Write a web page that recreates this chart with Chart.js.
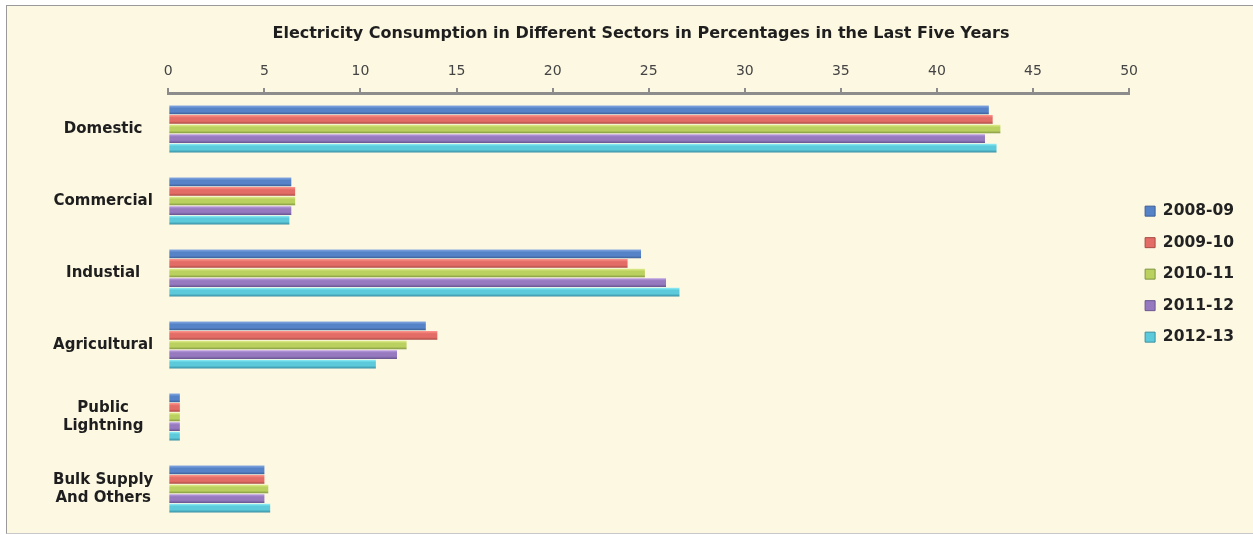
<!DOCTYPE html>
<html>
<head>
<meta charset="utf-8">
<script src="https://cdn.jsdelivr.net/npm/chart.js@4/dist/chart.umd.min.js"></script>
<style>
  body { margin: 0; background: #fff; overflow: hidden; }
  #box {
    position: absolute; left: 6px; top: 5px;
    width: 1246px; height: 527px;
    background: #fdf8e2;
    border-top: 1px solid #9a9a9a;
    border-left: 1px solid #9a9a9a;
    border-bottom: 1px solid #c8c8c8;
  }
</style>
</head>
<body>
<div id="box"><canvas id="myChart"></canvas></div>
<script>
// sectors (y axis) and years (series)
var sectors = ["Domestic", "Commercial", "Industial", "Agricultural", ["Public", "Lightning"], ["Bulk Supply", "And Others"]];
var years = ["2008-09", "2009-10", "2010-11", "2011-12", "2012-13"];

// percentages
var v2008 = [42.7, 6.4, 24.6, 13.4, 0.6, 5.0];
var v2009 = [42.9, 6.6, 23.9, 14.0, 0.6, 5.0];
var v2010 = [43.3, 6.6, 24.8, 12.4, 0.6, 5.2];
var v2011 = [42.5, 6.4, 25.9, 11.9, 0.6, 5.0];
var v2012 = [43.1, 6.3, 26.6, 10.8, 0.6, 5.3];

var xTicks = [0, 5, 10, 15, 20, 25, 30, 35, 40, 45, 50];

var light = ["#86aae2", "#ff958e", "#e4f08f", "#c2a6e6", "#94f2f8"];
var mid   = ["#5683c8", "#e46c66", "#bad05f", "#9679bf", "#5ccadb"];
var dark  = ["#3c5e94", "#a64a43", "#7f9542", "#6a5590", "#3b8fa2"];

var font = "'DejaVu Sans', sans-serif";

// fake the excel 3d look with a gradient across each bar
function barFill(i) {
  return function (c) {
    var el = c.element;
    if (!el || el.y == null || isNaN(el.y) || !el.height) return mid[i];
    var top = el.y - el.height / 2;
    var g = c.chart.ctx.createLinearGradient(0, top, 0, top + el.height);
    g.addColorStop(0, light[i]);
    g.addColorStop(0.3, mid[i]);
    g.addColorStop(0.7, mid[i]);
    g.addColorStop(1, dark[i]);
    return g;
  };
}

var allVals = [v2008, v2009, v2010, v2011, v2012];
var datasets = [];
for (var i = 0; i < years.length; i++) {
  datasets.push({
    label: years[i],
    data: allVals[i],
    backgroundColor: barFill(i),
    borderWidth: 0,
    categoryPercentage: 0.66,
    barPercentage: 0.92
  });
}

var chart = new Chart("myChart", {
  type: "bar",
  data: { labels: sectors, datasets: datasets },
  options: {
    indexAxis: "y",
    responsive: true,
    maintainAspectRatio: false,
    animation: false,
    layout: { padding: { left: 31, right: 9, top: 0, bottom: 8 } },
    plugins: {
      tooltip: { enabled: false },
      title: {
        display: true,
        text: "Electricity Consumption in Different Sectors in Percentages in the Last Five Years",
        color: "#1e1e1e",
        font: { family: font, size: 16, weight: "bold" },
        padding: { top: 18, bottom: 12 }
      },
      legend: {
        position: "right",
        align: "start",
        // empty title only pushes the items down
        title: { display: true, text: "", padding: { top: 167, bottom: 0 }, font: { size: 12 } },
        labels: {
          color: "#222",
          font: { family: font, size: 15.5, weight: "bold" },
          boxWidth: 10,
          boxHeight: 10,
          padding: 16,
          generateLabels: function (ch) {
            var items = Chart.defaults.plugins.legend.labels.generateLabels(ch);
            items.forEach(function (it, k) {
              it.fillStyle = mid[k];
              it.strokeStyle = dark[k];
              it.lineWidth = 1;
            });
            return items;
          }
        }
      }
    },
    scales: {
      x: {
        position: "top",
        min: 0,
        max: 50,
        afterBuildTicks: function (s) { s.ticks = xTicks.map(function (v) { return { value: v }; }); },
        ticks: { color: "#444", font: { family: font, size: 14 }, padding: 8 },
        grid: { drawOnChartArea: false, drawTicks: true, tickLength: 5, color: "#8c8c8c", lineWidth: 2 },
        border: { display: true, color: "#8c8c8c", width: 3 }
      },
      y: {
        ticks: { color: "#1e1e1e", font: { family: font, size: 15, weight: "bold" }, padding: 15, crossAlign: "center" },
        grid: { display: false, drawTicks: false },
        border: { display: false },
        afterFit: function (s) { s.paddingTop = 0; s.paddingBottom = 0; }
      }
    }
  }
});
// second pass so the gradients know where the bars are
chart.update();
</script>
</body>
</html>
